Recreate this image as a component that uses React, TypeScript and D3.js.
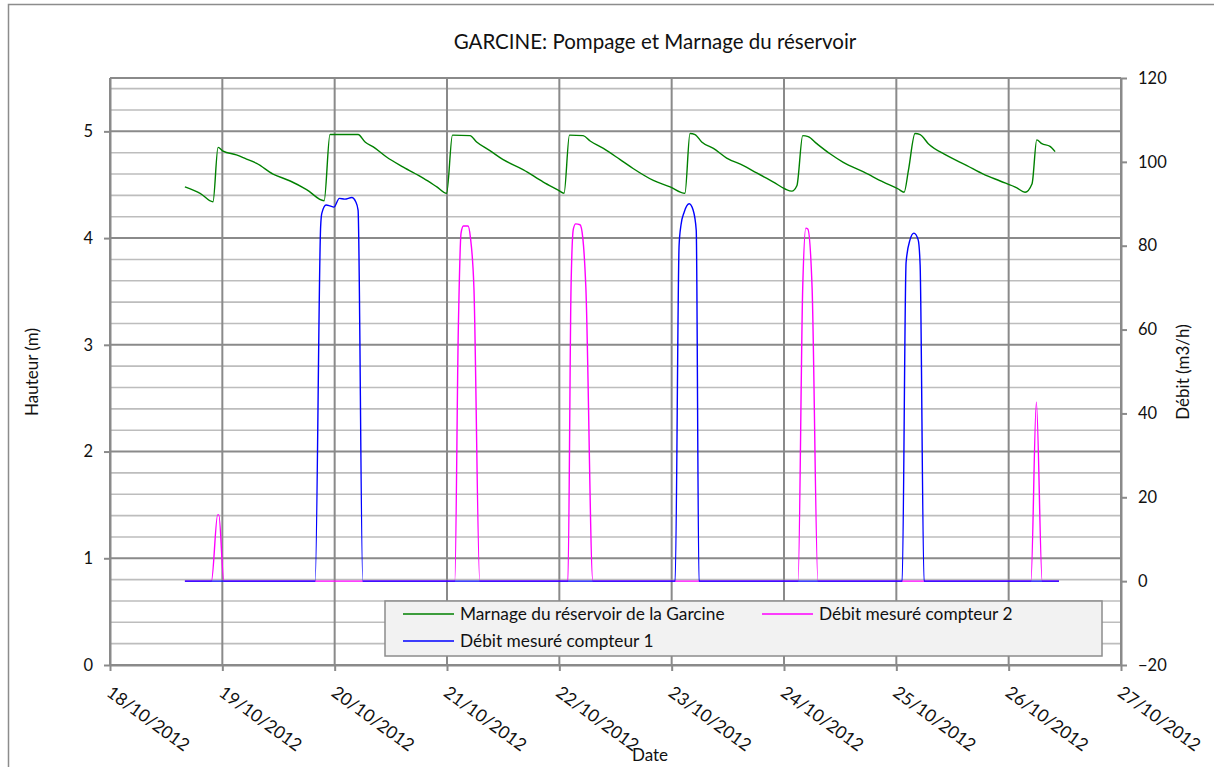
import React, { useRef, useEffect } from 'react';
import * as d3 from 'd3';

// axis ticks
const dayTicks = ['2012-10-18', '2012-10-19', '2012-10-20', '2012-10-21', '2012-10-22', '2012-10-23', '2012-10-24', '2012-10-25', '2012-10-26', '2012-10-27'];
const hauteurTicks = [0, 1, 2, 3, 4, 5];
const debitTicks = [-20, 0, 20, 40, 60, 80, 100, 120];

// Marnage du réservoir de la Garcine (m)
const marnage: [string, number][] = [
  ['2012-10-18 16:00', 4.48], ['2012-10-18 19:15', 4.42], ['2012-10-18 22:00', 4.34], ['2012-10-18 23:05', 4.85],
  ['2012-10-19 00:10', 4.815], ['2012-10-19 03:00', 4.78], ['2012-10-19 05:10', 4.74], ['2012-10-19 07:20', 4.70],
  ['2012-10-19 10:50', 4.60], ['2012-10-19 14:30', 4.535], ['2012-10-19 18:00', 4.455], ['2012-10-19 21:45', 4.35],
  ['2012-10-19 23:00', 4.97], ['2012-10-20 05:00', 4.97], ['2012-10-20 06:30', 4.90], ['2012-10-20 08:15', 4.855],
  ['2012-10-20 11:05', 4.76], ['2012-10-20 14:40', 4.665], ['2012-10-20 19:00', 4.56], ['2012-10-20 21:50', 4.48],
  ['2012-10-20 23:55', 4.42], ['2012-10-21 01:10', 4.965], ['2012-10-21 04:55', 4.96], ['2012-10-21 06:20', 4.90],
  ['2012-10-21 09:10', 4.82], ['2012-10-21 12:00', 4.735], ['2012-10-21 16:20', 4.64], ['2012-10-21 20:35', 4.525],
  ['2012-10-21 23:45', 4.45], ['2012-10-22 01:00', 4.42], ['2012-10-22 02:10', 4.965], ['2012-10-22 05:05', 4.96],
  ['2012-10-22 06:35', 4.91], ['2012-10-22 09:25', 4.84], ['2012-10-22 13:00', 4.735], ['2012-10-22 15:50', 4.65],
  ['2012-10-22 20:05', 4.54], ['2012-10-22 23:40', 4.48], ['2012-10-23 02:50', 4.42], ['2012-10-23 03:55', 4.98],
  ['2012-10-23 05:00', 4.97], ['2012-10-23 06:25', 4.90], ['2012-10-23 08:55', 4.84], ['2012-10-23 11:45', 4.75],
  ['2012-10-23 15:20', 4.68], ['2012-10-23 18:10', 4.61], ['2012-10-23 21:45', 4.525], ['2012-10-24 00:15', 4.46],
  ['2012-10-24 01:40', 4.44], ['2012-10-24 02:45', 4.49], ['2012-10-24 04:00', 4.96], ['2012-10-24 05:10', 4.95],
  ['2012-10-24 07:00', 4.885], ['2012-10-24 09:50', 4.79], ['2012-10-24 12:40', 4.71], ['2012-10-24 17:00', 4.62],
  ['2012-10-24 21:15', 4.525], ['2012-10-25 00:25', 4.46], ['2012-10-25 01:40', 4.43], ['2012-10-25 02:35', 4.635],
  ['2012-10-25 04:00', 4.98], ['2012-10-25 05:05', 4.97], ['2012-10-25 06:50', 4.885], ['2012-10-25 10:45', 4.775],
  ['2012-10-25 15:05', 4.68], ['2012-10-25 18:35', 4.60], ['2012-10-25 22:10', 4.535], ['2012-10-26 01:45', 4.47],
  ['2012-10-26 03:30', 4.43], ['2012-10-26 05:00', 4.51], ['2012-10-26 06:00', 4.92], ['2012-10-26 07:05', 4.885],
  ['2012-10-26 08:50', 4.86], ['2012-10-26 09:55', 4.81],
];

// Débit mesuré compteur 2 (m3/h)
const compteur2: [string, number][] = [
  ['2012-10-18 16:00', 0], ['2012-10-18 21:40', 0], ['2012-10-18 23:00', 15.8], ['2012-10-18 23:15', 15.8], ['2012-10-19 00:20', 0],
  ['2012-10-21 01:40', 0], ['2012-10-21 02:25', 60], ['2012-10-21 03:00', 83], ['2012-10-21 03:30', 84.7], ['2012-10-21 04:30', 84.7],
  ['2012-10-21 05:00', 82], ['2012-10-21 05:45', 70], ['2012-10-21 07:00', 0],
  ['2012-10-22 01:50', 0], ['2012-10-22 02:30', 70], ['2012-10-22 03:00', 84], ['2012-10-22 03:30', 85.2], ['2012-10-22 04:25', 85],
  ['2012-10-22 05:00', 82], ['2012-10-22 05:40', 70], ['2012-10-22 07:10', 0],
  ['2012-10-24 03:00', 0], ['2012-10-24 04:00', 70], ['2012-10-24 04:40', 84.2], ['2012-10-24 05:05', 84], ['2012-10-24 06:00', 70],
  ['2012-10-24 07:15', 0],
  ['2012-10-26 04:45', 0], ['2012-10-26 05:55', 42.7], ['2012-10-26 07:10', 0], ['2012-10-26 10:45', 0],
];

// Débit mesuré compteur 1 (m3/h)
const compteur1: [string, number][] = [
  ['2012-10-18 16:00', 0], ['2012-10-19 19:50', 0], ['2012-10-19 21:00', 84.5], ['2012-10-19 21:15', 87.7], ['2012-10-19 22:10', 89.7],
  ['2012-10-19 23:00', 89.5], ['2012-10-19 23:50', 89.2], ['2012-10-20 01:00', 91.3], ['2012-10-20 02:10', 91.1], ['2012-10-20 03:40', 91.5],
  ['2012-10-20 04:30', 90.5], ['2012-10-20 05:00', 88.5], ['2012-10-20 06:00', 0],
  ['2012-10-23 00:45', 0], ['2012-10-23 01:35', 80], ['2012-10-23 02:00', 85], ['2012-10-23 02:40', 88], ['2012-10-23 03:45', 90],
  ['2012-10-23 04:35', 88.5], ['2012-10-23 05:15', 83.7], ['2012-10-23 05:50', 0],
  ['2012-10-25 01:15', 0], ['2012-10-25 02:05', 76], ['2012-10-25 02:55', 81.4], ['2012-10-25 03:45', 83], ['2012-10-25 04:40', 81.4],
  ['2012-10-25 05:05', 75.4], ['2012-10-25 05:55', 0], ['2012-10-26 10:45', 0],
];

const W = 1214;
const H = 767;

export default function App() {
  const svgRef = useRef<SVGSVGElement | null>(null);

  useEffect(() => {
    const svg = d3.select(svgRef.current);
    svg.selectAll('*').remove();

    const font = 'Lato, "Open Sans", sans-serif';
    const parseT = d3.timeParse('%Y-%m-%d %H:%M');
    const parseD = d3.timeParse('%Y-%m-%d');
    const days = dayTicks.map((d) => parseD(d) as Date);

    const left = 110, right = 1121, top = 78, bottom = 665;
    const x = d3.scaleTime().domain([days[0], days[days.length - 1]]).range([left, right]);
    const yL = d3.scaleLinear().domain([0, 5.5]).range([bottom, top]);
    const yR = d3.scaleLinear().domain([-20, 120]).range([bottom, top]);

    const major = '#8a8a8a';
    const minor = '#bdbdbd';

    // outer frame
    svg.append('rect')
      .attr('x', 8.5).attr('y', 4.5).attr('width', 1230).attr('height', 790)
      .attr('fill', 'white').attr('stroke', '#8c8c8c').attr('stroke-width', 1.5);

    // title
    svg.append('text')
      .attr('x', 655).attr('y', 49).attr('text-anchor', 'middle')
      .attr('font-family', font).attr('font-size', 20.5).attr('fill', '#111')
      .text('GARCINE: Pompage et Marnage du réservoir');

    // horizontal minor grid
    const minorVals = d3.range(0.2, 5.5, 0.2).filter((v) => Math.abs(v - Math.round(v)) > 1e-6);
    svg.append('g').selectAll('line').data(minorVals).join('line')
      .attr('x1', left).attr('x2', right)
      .attr('y1', (d) => yL(d)).attr('y2', (d) => yL(d))
      .attr('stroke', minor).attr('stroke-width', 1.6);

    // horizontal major grid
    svg.append('g').selectAll('line').data(hauteurTicks.concat([5.5])).join('line')
      .attr('x1', left).attr('x2', right)
      .attr('y1', (d) => yL(d)).attr('y2', (d) => yL(d))
      .attr('stroke', major).attr('stroke-width', 2);

    // vertical grid
    svg.append('g').selectAll('line').data(days).join('line')
      .attr('x1', (d) => x(d)).attr('x2', (d) => x(d))
      .attr('y1', top).attr('y2', bottom)
      .attr('stroke', major).attr('stroke-width', 2);

    // axes
    const axisStyle = (g: any) => {
      g.select('.domain').attr('stroke', major).attr('stroke-width', 2);
      g.selectAll('.tick line').attr('stroke', major).attr('stroke-width', 2);
      g.selectAll('.tick text').attr('font-family', font).attr('font-size', 16.5).attr('fill', '#111');
    };

    svg.append('g').attr('transform', `translate(${left},0)`)
      .call(d3.axisLeft(yL).tickValues(hauteurTicks).tickSize(6).tickSizeOuter(0).tickPadding(11).tickFormat(d3.format('d')))
      .call(axisStyle);

    svg.append('g').attr('transform', `translate(${right},0)`)
      .call(d3.axisRight(yR).tickValues(debitTicks).tickSize(6).tickSizeOuter(0).tickPadding(11).tickFormat(d3.format('d')))
      .call(axisStyle);

    const xAxis = svg.append('g').attr('transform', `translate(0,${bottom})`)
      .call(d3.axisBottom(x).tickValues(days).tickSize(6).tickSizeOuter(0).tickFormat(d3.timeFormat('%d/%m/%Y') as any))
      .call(axisStyle);
    xAxis.selectAll('.tick text')
      .attr('text-anchor', 'start')
      .attr('dy', null)
      .attr('y', null)
      .attr('font-size', 17.5)
      .attr('transform', 'translate(-5,30) rotate(36)');

    // axis titles
    svg.append('text')
      .attr('transform', 'translate(38,372) rotate(-90)').attr('text-anchor', 'middle')
      .attr('font-family', font).attr('font-size', 17).attr('fill', '#111')
      .text('Hauteur (m)');
    svg.append('text')
      .attr('transform', 'translate(1189,372) rotate(-90)').attr('text-anchor', 'middle')
      .attr('font-family', font).attr('font-size', 17).attr('fill', '#111')
      .text('Débit (m3/h)');
    svg.append('text')
      .attr('x', 650).attr('y', 761).attr('text-anchor', 'middle')
      .attr('font-family', font).attr('font-size', 17).attr('fill', '#111')
      .text('Date');

    // series
    const lineL = d3.line<[string, number]>()
      .x((d) => x(parseT(d[0]) as Date)).y((d) => yL(d[1])).curve(d3.curveMonotoneX);
    const lineR = d3.line<[string, number]>()
      .x((d) => x(parseT(d[0]) as Date)).y((d) => yR(d[1])).curve(d3.curveMonotoneX);

    svg.append('path').datum(marnage).attr('d', lineL)
      .attr('fill', 'none').attr('stroke', '#008000').attr('stroke-width', 1.4);
    svg.append('path').datum(compteur2).attr('d', lineR)
      .attr('fill', 'none').attr('stroke', '#ff00ff').attr('stroke-width', 1.4);
    svg.append('path').datum(compteur1).attr('d', lineR)
      .attr('fill', 'none').attr('stroke', '#0000ff').attr('stroke-width', 1.4);

    // legend
    const lg = svg.append('g');
    lg.append('rect')
      .attr('x', 385).attr('y', 601).attr('width', 717).attr('height', 55)
      .attr('fill', '#f2f2f2').attr('stroke', '#8c8c8c').attr('stroke-width', 1.5);
    const items = [
      { label: 'Marnage du réservoir de la Garcine', color: '#008000', lx: 403, ly: 614 },
      { label: 'Débit mesuré compteur 2', color: '#ff00ff', lx: 762, ly: 614 },
      { label: 'Débit mesuré compteur 1', color: '#0000ff', lx: 403, ly: 641 },
    ];
    items.forEach((it) => {
      lg.append('line')
        .attr('x1', it.lx).attr('x2', it.lx + 51).attr('y1', it.ly).attr('y2', it.ly)
        .attr('stroke', it.color).attr('stroke-width', 1.4);
      lg.append('text')
        .attr('x', it.lx + 57).attr('y', it.ly + 6)
        .attr('font-family', font).attr('font-size', 17.3).attr('fill', '#111')
        .text(it.label);
    });
  }, []);

  return <svg ref={svgRef} width={W} height={H} style={{ position: 'absolute', left: 0, top: 0 }} />;
}
